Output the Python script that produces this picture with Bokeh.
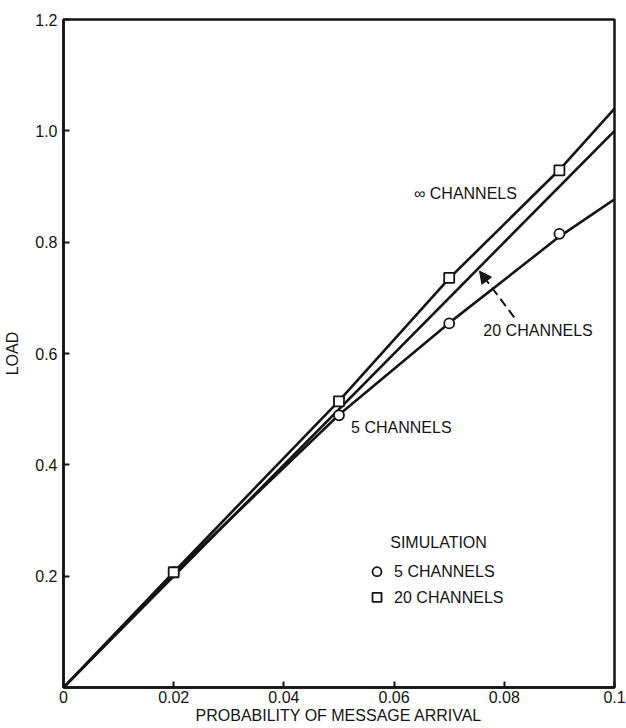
from bokeh.plotting import figure
from bokeh.models import Range1d, FixedTicker, Arrow, NormalHead
from bokeh.core.properties import value
from bokeh.embed import file_html
from bokeh.resources import INLINE

# Analytic load curves
p_inf = [0.0, 0.02, 0.05, 0.07, 0.09, 0.1]
load_inf = [0.0, 0.207, 0.515, 0.735, 0.93, 1.04]

p_20 = [0.0, 0.1]
load_20 = [0.0, 1.0]

p_5 = [0.0, 0.02, 0.05, 0.07, 0.09, 0.1]
load_5 = [0.0, 0.205, 0.49, 0.655, 0.81, 0.877]

# Simulation results
sim_p = [0.02, 0.05, 0.07, 0.09]
sim_5ch = [0.207, 0.489, 0.654, 0.815]
sim_20ch = [0.207, 0.514, 0.736, 0.929]

# Axis ticks
x_ticks = [0.0, 0.02, 0.04, 0.06, 0.08, 0.1]
x_tick_labels = ["0", "0.02", "0.04", "0.06", "0.08", "0.1"]
y_ticks = [0.2, 0.4, 0.6, 0.8, 1.0, 1.2]
y_tick_labels = ["0.2", "0.4", "0.6", "0.8", "1.0", "1.2"]

FONT = "Liberation Sans"
INK = "#141414"
FS = "16px"

p = figure(width=626, height=728, output_backend="svg", toolbar_location=None,
           x_range=Range1d(0, 0.1), y_range=Range1d(0, 1.2),
           min_border_left=63, min_border_right=12, min_border_top=19, min_border_bottom=41)
p.background_fill_color = "white"
p.border_fill_color = "white"
p.outline_line_color = INK
p.outline_line_width = 2.5
p.xgrid.visible = False
p.ygrid.visible = False

for ax, ticks, labels in ((p.xaxis[0], x_ticks, x_tick_labels), (p.yaxis[0], y_ticks, y_tick_labels)):
    ax.ticker = FixedTicker(ticks=ticks)
    ax.major_label_overrides = {t: l for t, l in zip(ticks, labels)}
    ax.minor_tick_line_color = None
    ax.major_tick_in = 6
    ax.major_tick_out = 0
    ax.major_tick_line_color = INK
    ax.major_tick_line_width = 2
    ax.axis_line_color = INK
    ax.axis_line_width = 2.5
    ax.major_label_text_font = FONT
    ax.major_label_text_font_size = FS
    ax.major_label_text_color = INK
    ax.axis_label_text_font = FONT
    ax.axis_label_text_font_size = FS
    ax.axis_label_text_font_style = "normal"
    ax.axis_label_text_color = INK

p.xaxis.axis_label = "PROBABILITY OF MESSAGE ARRIVAL"
p.xaxis.major_label_standoff = 3
p.xaxis.axis_label_standoff = 1
p.yaxis.axis_label = "LOAD"
p.yaxis.major_label_standoff = 6
p.yaxis.axis_label_standoff = 11

# Curves
for xs, ys in ((p_inf, load_inf), (p_20, load_20), (p_5, load_5)):
    p.line(xs, ys, line_color=INK, line_width=2.6)

# Simulation markers
p.scatter(sim_p, sim_5ch, marker="circle", size=10, fill_color="white",
          line_color=INK, line_width=1.8)
p.scatter(sim_p, sim_20ch, marker="square", size=10, fill_color="white",
          line_color=INK, line_width=1.8)

# Curve labels
def note(x, y, s):
    p.text(x=[x], y=[y], text=[s], text_font=value(FONT), text_font_size=FS,
           text_color=INK, text_align="left", text_baseline="middle")

note(0.0636, 0.887, "\u221e CHANNELS")
note(0.0762, 0.641, "20 CHANNELS")
note(0.0522, 0.467, "5 CHANNELS")

# Pointer to the 20-channel curve
p.add_layout(Arrow(x_start=0.0818, y_start=0.665, x_end=0.0755, y_end=0.748,
                   line_color=INK, line_width=2, line_dash="9 5",
                   end=NormalHead(size=12, fill_color=INK, line_color=INK, line_width=1)))

# Simulation key
note(0.0593, 0.26, "SIMULATION")
note(0.0600, 0.208, "5 CHANNELS")
note(0.0600, 0.162, "20 CHANNELS")
p.scatter([0.0569], [0.208], marker="circle", size=9, fill_color="white",
          line_color=INK, line_width=1.8)
p.scatter([0.0569], [0.162], marker="square", size=9, fill_color="white",
          line_color=INK, line_width=1.8)

open("out.html", "w").write(file_html(p, INLINE))
